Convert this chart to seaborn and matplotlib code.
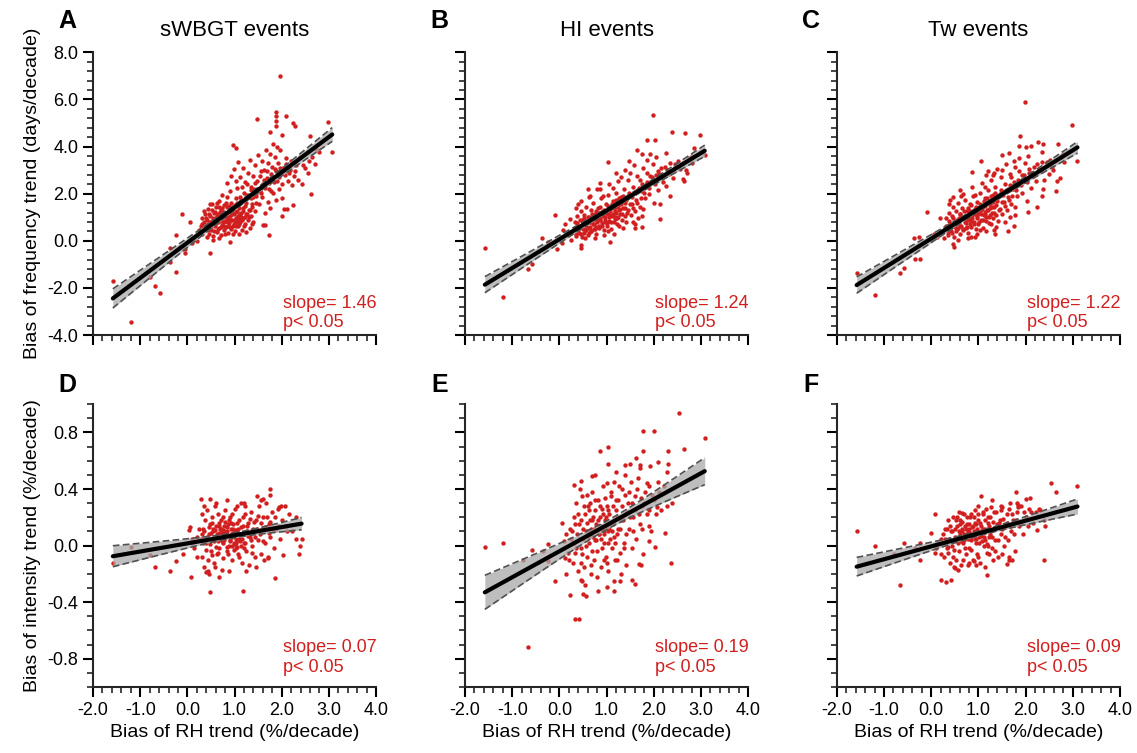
import numpy as np
import pandas as pd
import seaborn as sns
import matplotlib
matplotlib.use("Agg")
import matplotlib.pyplot as plt
from matplotlib.ticker import MultipleLocator, FormatStrFormatter

# ---- data (x = bias of RH trend, y = bias of event trend) ----
pts_a = [
    (-1.58, -1.70), (-1.19, -3.46), (-0.80, -1.52), (-0.68, -1.90), (-0.59, -2.23), (-0.37, -0.31),
    (-0.36, -0.88), (-0.25, 0.23), (-0.25, -1.31), (-0.11, 1.14), (-0.06, -0.50), (0.05, 0.82),
    (-0.15, -0.25), (-0.05, -0.35), (0.10, -0.10), (0.15, 0.15), (0.20, 0.00), (0.25, 0.45),
    (0.30, 0.30), (0.47, -0.50), (0.90, -0.07),
    (0.28, 0.62), (0.31, 0.95), (0.33, 0.40), (0.36, 0.78), (0.38, 1.12), (0.40, 0.55), (0.42, 0.88),
    (0.44, 1.35), (0.45, 0.30), (0.47, 0.70), (0.49, 1.05), (0.50, 0.48), (0.52, 1.58), (0.53, 0.85),
    (0.55, 0.20), (0.56, 1.20), (0.58, 0.62), (0.60, 0.98), (0.61, 1.45), (0.62, 0.38), (0.64, 0.80),
    (0.65, 1.12), (0.67, 0.55), (0.68, 1.70), (0.70, 0.92), (0.71, 0.25), (0.72, 1.30), (0.74, 0.68),
    (0.75, 1.02), (0.77, 0.45), (0.78, 1.52), (0.79, 0.85), (0.81, 1.18), (0.82, 0.60), (0.84, 0.95),
    (0.85, 1.88), (0.86, 0.35), (0.88, 1.25), (0.89, 0.75), (0.90, 1.05), (0.92, 1.62), (0.93, 0.50),
    (0.95, 0.90), (0.96, 1.35), (0.98, 0.70), (0.99, 1.15), (1.01, 0.42), (1.02, 1.80), (1.04, 0.95),
    (1.05, 1.28), (1.07, 0.62), (1.08, 1.05), (1.10, 1.55), (1.12, 0.82), (1.13, 1.18), (1.15, 0.48),
    (1.17, 1.40), (1.18, 0.95), (1.20, 1.70), (1.22, 0.70), (1.24, 1.12), (1.26, 1.95), (1.28, 0.88),
    (1.30, 1.30), (1.33, 0.55), (1.35, 1.05), (1.38, 1.58), (1.40, 0.80), (1.43, 1.25), (1.45, 2.05),
    (0.35, 1.28), (0.42, 0.15), (0.48, 1.55), (0.54, 0.05), (0.57, 0.92), (0.63, 1.62), (0.66, 0.12),
    (0.69, 1.22), (0.73, 1.95), (0.76, 0.80), (0.80, 0.30), (0.83, 1.42), (0.87, 0.65), (0.91, 2.10),
    (0.94, 1.20), (0.97, 0.28), (1.00, 1.50), (1.03, 0.65), (1.06, 2.25), (1.09, 0.90), (1.11, 1.88),
    (1.14, 1.00), (1.16, 2.30), (1.19, 0.62), (1.23, 1.48), (1.27, 2.40), (1.31, 1.00), (1.34, 1.82),
    (1.37, 0.70), (1.42, 2.20),
    (0.85, 2.45), (0.92, 2.75), (0.98, 3.05), (1.02, 2.55), (1.08, 3.35), (1.12, 2.70), (1.18, 3.10),
    (1.22, 2.50), (1.28, 2.90), (1.32, 3.45), (1.35, 2.30), (1.40, 2.75), (1.44, 3.20), (1.48, 2.55),
    (1.50, 3.65), (1.53, 2.10), (1.55, 2.95), (1.58, 3.40), (1.60, 2.40), (1.63, 3.00), (1.66, 3.85),
    (1.68, 2.65), (1.70, 3.30), (1.73, 2.20), (1.75, 3.70), (1.78, 2.85), (1.80, 3.15), (1.82, 4.10),
    (1.84, 2.50), (1.86, 3.55), (1.88, 2.95), (1.90, 4.00), (1.92, 3.30), (1.95, 2.70), (1.97, 3.85),
    (2.00, 2.40), (2.03, 3.10), (2.06, 2.80), (2.10, 3.50), (2.14, 2.55), (2.18, 3.00), (2.22, 2.35),
    (2.26, 2.75), (2.30, 3.20), (2.35, 2.60), (2.42, 2.40), (2.50, 3.10), (2.58, 3.40), (2.65, 3.55),
    (2.72, 3.90), (2.80, 3.75), (2.55, 2.90), (1.46, 1.90), (1.52, 1.55), (1.58, 1.85), (1.64, 1.20),
    (1.70, 1.65), (1.76, 1.40), (1.82, 2.05), (1.88, 1.75), (1.94, 2.20), (2.00, 1.80),
    (0.97, 4.05), (1.04, 3.93), (1.48, 5.17), (1.87, 5.45), (1.87, 5.28), (1.87, 5.07), (1.87, 4.88),
    (1.97, 6.98), (2.08, 5.31), (2.24, 5.00), (2.29, 4.86), (1.75, 4.60), (2.01, 4.50), (2.98, 5.03),
    (3.07, 3.75), (2.63, 1.98), (2.60, 4.43), (2.70, 3.27), (2.01, 1.06), (2.05, 1.34), (2.11, 1.34),
    (2.23, 1.50), (1.73, 0.25), (1.60, 0.66), (1.64, 0.66), (1.25, 0.39), (1.10, 0.27),
]
core_a = [
    (0.32, 0.72), (0.36, 0.52), (0.39, 0.98), (0.41, 0.68), (0.43, 0.45), (0.46, 1.15), (0.48, 0.82),
    (0.51, 0.58), (0.53, 1.32), (0.55, 0.95), (0.57, 0.42), (0.59, 1.22), (0.61, 0.75), (0.63, 1.05),
    (0.64, 0.52), (0.66, 1.45), (0.68, 0.85), (0.70, 1.12), (0.72, 0.58), (0.73, 1.40), (0.75, 0.82),
    (0.77, 1.22), (0.78, 0.62), (0.80, 1.05), (0.82, 1.62), (0.83, 0.78), (0.85, 1.10), (0.87, 0.92),
    (0.88, 1.48), (0.90, 0.58), (0.91, 1.28), (0.93, 0.88), (0.95, 1.12), (0.97, 0.62), (0.98, 1.45),
    (1.00, 0.88), (1.02, 1.22), (1.03, 0.78), (1.05, 1.62), (1.07, 1.00), (1.09, 1.38), (1.10, 0.72),
    (1.12, 1.15), (1.14, 1.72), (1.16, 0.88), (1.18, 1.25), (1.20, 2.05), (1.22, 1.00), (1.25, 1.62),
    (1.27, 1.15), (1.30, 1.92), (1.32, 1.30), (1.35, 2.15), (1.37, 1.45), (1.40, 1.85), (1.43, 2.45),
    (1.46, 1.60), (1.50, 2.20), (1.54, 2.75), (1.57, 2.05), (1.62, 2.60), (1.65, 2.25), (1.69, 2.95),
    (1.72, 2.45), (1.77, 2.10), (1.81, 2.70), (1.85, 3.05), (1.90, 2.55), (1.96, 3.10), (2.02, 2.95),
    (2.08, 3.25), (2.15, 2.90), (2.20, 3.40), (2.28, 2.95), (2.38, 3.55), (2.45, 3.20),
]

pts_b = [
    (-1.58, -0.30), (-1.19, -2.39), (-0.66, -1.19), (-0.58, -1.00), (-0.36, 0.13), (-0.24, -0.04),
    (-0.09, 1.09), (-0.05, -0.34), (0.07, 0.48), (0.05, -0.11), (0.22, 0.93), (0.39, 1.58),
    (0.46, -0.30), (0.46, -0.16), (0.60, 2.18), (0.80, 2.18), (0.87, 2.46), (1.04, 3.35), (1.08, -0.07),
    (1.47, 3.38), (1.64, 3.87), (1.86, 4.27), (2.02, 4.27), (1.75, 3.70), (1.91, 3.70), (1.98, 5.36),
    (2.39, 4.61), (2.67, 4.58), (2.99, 4.48), (3.08, 3.63), (2.86, 3.92), (2.62, 2.64), (2.64, 2.52),
    (2.14, 0.93), (2.35, 1.89), (2.13, 1.58), (1.61, 0.55), (1.61, 0.72), (1.75, 0.58), (2.25, 3.73),
    (2.25, 2.32), (2.41, 2.67), (2.68, 3.00), (2.70, 2.86), (0.15, 0.25), (0.25, 0.05), (0.12, 0.70),
    (0.30, 0.45), (0.33, 0.80), (0.36, 0.20), (0.38, 1.05), (0.40, 0.60), (0.42, 0.35), (0.44, 0.90),
    (0.46, 1.25), (0.48, 0.15), (0.50, 0.70), (0.52, 1.10), (0.54, 0.45), (0.56, 1.45), (0.58, 0.85),
    (0.60, 0.25), (0.62, 1.00), (0.64, 0.60), (0.66, 1.30), (0.68, 0.40), (0.70, 0.95), (0.72, 1.62),
    (0.74, 0.70), (0.76, 1.15), (0.78, 0.30), (0.80, 0.88), (0.82, 1.40), (0.84, 0.55), (0.86, 1.05),
    (0.88, 1.80), (0.90, 0.75), (0.92, 1.25), (0.94, 0.45), (0.96, 1.00), (0.98, 1.55), (1.00, 0.62),
    (1.02, 1.15), (1.04, 1.95), (1.06, 0.85), (1.08, 1.35), (1.10, 0.50), (1.12, 1.05), (1.14, 1.70),
    (1.16, 0.78), (1.18, 1.25), (1.20, 2.05), (1.22, 0.95), (1.24, 1.50), (1.26, 0.65), (1.28, 1.15),
    (1.30, 1.85), (1.32, 0.90), (1.34, 1.40), (1.36, 2.20), (1.38, 1.05), (1.40, 1.60), (1.42, 0.80),
    (1.45, 1.30), (1.48, 1.95), (1.51, 1.10), (1.54, 1.55), (1.57, 2.30), (1.60, 1.25), (1.63, 1.75),
    (1.66, 0.95), (1.70, 1.45), (1.74, 2.10), (1.78, 1.35), (1.82, 1.80),
    (0.35, 1.40), (0.45, 1.70), (0.55, 0.10), (0.65, 1.90), (0.75, 0.10), (0.85, 2.20), (0.95, 0.25),
    (1.05, 2.40), (1.15, 0.30), (1.25, 2.55), (1.35, 0.55), (1.45, 2.60), (1.55, 0.80), (1.65, 2.75),
    (1.75, 1.05), (1.85, 2.90), (1.90, 2.00), (1.95, 2.45), (2.00, 1.60), (2.05, 2.80), (2.10, 2.15),
    (2.15, 3.10), (2.20, 2.50), (0.62, 1.85), (0.73, 0.50), (0.83, 1.20), (0.93, 1.90), (1.03, 0.40),
    (1.13, 2.25), (1.23, 0.70), (0.57, 0.62), (0.67, 0.78), (0.77, 0.58), (0.87, 0.92), (0.97, 0.80),
    (1.07, 1.10), (1.17, 1.02), (1.27, 1.30), (0.53, 0.95), (0.63, 0.35),
    (1.50, 2.90), (1.58, 3.20), (1.70, 2.60), (1.78, 3.10), (1.86, 3.45), (1.92, 2.75), (1.98, 3.25),
    (2.05, 3.55), (2.12, 2.85), (2.28, 3.00), (2.35, 3.30), (2.45, 3.15), (2.52, 3.40), (2.75, 3.50),
    (2.82, 3.30), (1.30, 2.70), (1.40, 3.00), (1.20, 2.90),
]
core_b = [
    (0.32, 0.55), (0.35, 0.30), (0.37, 0.75), (0.40, 0.45), (0.43, 0.62), (0.45, 0.28), (0.47, 0.88),
    (0.50, 0.52), (0.52, 0.35), (0.55, 0.78), (0.57, 0.48), (0.60, 1.02), (0.62, 0.55), (0.64, 0.82),
    (0.67, 0.42), (0.69, 1.15), (0.71, 0.72), (0.73, 0.92), (0.75, 0.50), (0.77, 1.28), (0.79, 0.80),
    (0.81, 1.05), (0.83, 0.65), (0.85, 1.42), (0.87, 0.88), (0.89, 1.15), (0.91, 0.62), (0.93, 1.05),
    (0.95, 1.32), (0.97, 0.88), (0.99, 1.18), (1.01, 0.75), (1.03, 1.48), (1.05, 1.02), (1.07, 1.25),
    (1.09, 0.80), (1.11, 1.58), (1.13, 1.12), (1.15, 1.38), (1.17, 0.92), (1.19, 1.72), (1.21, 1.20),
    (1.23, 1.45), (1.25, 1.02), (1.27, 1.80), (1.29, 1.35), (1.31, 1.55), (1.33, 1.12), (1.35, 1.92),
    (1.38, 1.40), (1.41, 1.75), (1.44, 1.20), (1.47, 2.05), (1.50, 1.55), (1.53, 1.85), (1.56, 1.38),
    (1.60, 2.05), (1.64, 1.62), (1.68, 2.25), (1.72, 1.80), (1.76, 2.40), (1.80, 2.05), (1.85, 2.50),
    (1.90, 2.25), (1.96, 2.70), (2.02, 2.40), (2.08, 2.95), (2.16, 2.65), (2.24, 3.15), (2.32, 2.85),
    (2.45, 3.25), (2.55, 3.05), (2.62, 3.30), (2.80, 3.60),
]

pts_c = [
    (-1.58, -1.36), (-1.19, -2.32), (-0.66, -1.38), (-0.58, -1.16), (-0.36, 0.13), (-0.25, 0.17),
    (-0.35, -0.79), (-0.23, -0.76), (-0.09, 1.24), (0.00, 0.05), (0.06, 0.30), (0.12, 0.15),
    (0.19, 0.98), (0.39, 1.75), (0.48, -0.25), (0.46, -0.15), (0.60, 2.15), (0.87, 2.91), (1.06, 3.38),
    (1.17, 2.78), (1.33, 2.88), (1.49, 3.66), (1.65, 3.73), (1.75, 3.38), (1.86, 4.04), (1.89, 4.44),
    (1.98, 5.88), (2.00, 3.99), (2.12, 4.04), (2.26, 4.20), (2.37, 4.13), (2.68, 4.13), (2.99, 4.93),
    (3.10, 3.39), (2.87, 3.73), (2.64, 2.11), (2.73, 2.67), (2.66, 2.52), (2.34, 3.77), (2.34, 1.89),
    (2.36, 2.20), (2.05, 1.22), (2.25, 1.44), (1.63, 0.41), (1.75, 0.62), (1.33, 0.48), (1.36, 0.30),
    (0.85, 0.18), (0.92, 0.18), (0.22, 0.40), (0.28, 0.10),
    (0.30, 0.55), (0.32, 0.95), (0.35, 0.25), (0.37, 1.20), (0.40, 0.70), (0.42, 0.40), (0.44, 1.05),
    (0.46, 1.45), (0.48, 0.15), (0.50, 0.80), (0.52, 1.25), (0.54, 0.50), (0.56, 1.60), (0.58, 0.95),
    (0.60, 0.30), (0.62, 1.15), (0.64, 0.65), (0.66, 1.40), (0.68, 0.45), (0.70, 1.00), (0.72, 1.75),
    (0.74, 0.75), (0.76, 1.25), (0.78, 0.35), (0.80, 0.95), (0.82, 1.55), (0.84, 0.60), (0.86, 1.10),
    (0.88, 1.90), (0.90, 0.80), (0.92, 1.35), (0.94, 0.50), (0.96, 1.05), (0.98, 1.65), (1.00, 0.70),
    (1.02, 1.20), (1.04, 2.05), (1.06, 0.90), (1.08, 1.45), (1.10, 0.55), (1.12, 1.10), (1.14, 1.80),
    (1.16, 0.85), (1.18, 1.30), (1.20, 2.15), (1.22, 1.00), (1.24, 1.55), (1.26, 0.70), (1.28, 1.20),
    (1.30, 1.95), (1.32, 0.95), (1.34, 1.45), (1.36, 2.30), (1.38, 1.10), (1.40, 1.70), (1.42, 0.85),
    (1.45, 1.35), (1.48, 2.05), (1.51, 1.15), (1.54, 1.65), (1.57, 2.40), (1.60, 1.30), (1.63, 1.85),
    (1.66, 1.00), (1.70, 1.55), (1.74, 2.20), (1.78, 1.45), (1.82, 1.90),
    (0.38, 1.55), (0.47, 1.85), (0.57, 0.05), (0.67, 2.00), (0.77, 0.10), (0.87, 2.30), (0.97, 0.30),
    (1.07, 2.45), (1.17, 0.40), (1.27, 2.60), (1.37, 0.60), (1.47, 2.70), (1.57, 0.80), (1.67, 2.85),
    (1.77, 1.10), (1.87, 2.95), (1.92, 2.05), (1.97, 2.55), (2.02, 1.70), (2.07, 2.90), (2.12, 2.25),
    (2.17, 3.15), (2.22, 2.55), (0.63, 1.90), (0.73, 0.55), (0.83, 1.25), (0.93, 1.95), (1.03, 0.45),
    (1.13, 2.30), (1.23, 0.75), (0.55, 0.75), (0.65, 0.95), (0.75, 1.05), (0.85, 0.85), (0.95, 1.20),
    (1.05, 1.30), (1.15, 1.15), (1.25, 1.40),
    (1.50, 3.00), (1.58, 3.25), (1.70, 2.70), (1.78, 3.15), (1.86, 3.50), (1.92, 2.80), (1.98, 3.30),
    (2.05, 3.60), (2.12, 2.90), (2.28, 3.05), (2.35, 3.35), (2.45, 3.20), (2.52, 3.45), (2.75, 3.55),
    (2.82, 3.35), (1.30, 2.80), (1.40, 3.05), (1.20, 2.95), (2.40, 2.60), (2.50, 2.85), (2.58, 3.00),
]
core_c = [
    (0.32, 0.62), (0.35, 0.38), (0.37, 0.85), (0.40, 0.52), (0.43, 0.72), (0.45, 0.35), (0.47, 0.98),
    (0.50, 0.60), (0.52, 0.42), (0.55, 0.88), (0.57, 0.55), (0.60, 1.12), (0.62, 0.62), (0.64, 0.92),
    (0.67, 0.50), (0.69, 1.25), (0.71, 0.80), (0.73, 1.02), (0.75, 0.58), (0.77, 1.38), (0.79, 0.88),
    (0.81, 1.15), (0.83, 0.72), (0.85, 1.52), (0.87, 0.98), (0.89, 1.25), (0.91, 0.70), (0.93, 1.15),
    (0.95, 1.42), (0.97, 0.98), (0.99, 1.28), (1.01, 0.82), (1.03, 1.58), (1.05, 1.12), (1.07, 1.35),
    (1.09, 0.88), (1.11, 1.68), (1.13, 1.22), (1.15, 1.48), (1.17, 1.00), (1.19, 1.82), (1.21, 1.30),
    (1.23, 1.55), (1.25, 1.10), (1.27, 1.90), (1.29, 1.45), (1.31, 1.65), (1.33, 1.20), (1.35, 2.02),
    (1.38, 1.50), (1.41, 1.85), (1.44, 1.30), (1.47, 2.15), (1.50, 1.65), (1.53, 1.95), (1.56, 1.48),
    (1.60, 2.15), (1.64, 1.72), (1.68, 2.35), (1.72, 1.90), (1.76, 2.50), (1.80, 2.15), (1.85, 2.60),
    (1.90, 2.35), (1.96, 2.80), (2.02, 2.50), (2.08, 3.05), (2.16, 2.75), (2.24, 3.25), (2.32, 2.95),
    (2.45, 3.35), (2.55, 3.15), (2.62, 3.40), (2.80, 3.70),
]

pts_d = [
    (-1.58, -0.12), (-1.19, -0.01), (-0.80, -0.07), (-0.68, -0.15), (-0.36, -0.18), (-0.25, -0.11),
    (-0.10, -0.06), (0.07, -0.22), (0.04, 0.11), (0.06, 0.13), (0.29, 0.33), (0.49, 0.33), (0.48, -0.33),
    (0.58, 0.28), (0.40, -0.19), (0.43, -0.18), (0.67, -0.22), (1.17, -0.32), (1.19, 0.30), (1.22, 0.28),
    (1.47, 0.35), (1.61, 0.33), (1.75, 0.36), (1.76, 0.40), (1.86, -0.23), (2.02, -0.07), (1.98, 0.28),
    (2.06, 0.28), (2.30, 0.20), (2.38, 0.00), (2.42, 0.05), (2.37, -0.06), (2.12, 0.10), (0.15, -0.02),
    (0.20, 0.06), (0.10, 0.02),
    (0.28, 0.05), (0.30, 0.22), (0.32, -0.08), (0.34, 0.12), (0.36, -0.15), (0.38, 0.18), (0.40, 0.02),
    (0.42, 0.25), (0.44, -0.10), (0.46, 0.08), (0.48, 0.15), (0.50, -0.04), (0.52, 0.20), (0.54, 0.10),
    (0.56, -0.12), (0.58, 0.05), (0.60, 0.14), (0.62, -0.06), (0.64, 0.22), (0.66, 0.09), (0.68, -0.02),
    (0.70, 0.12), (0.72, 0.18), (0.74, 0.03), (0.76, -0.09), (0.78, 0.10), (0.80, 0.25), (0.82, 0.06),
    (0.84, -0.04), (0.86, 0.15), (0.88, 0.00), (0.90, 0.20), (0.92, 0.08), (0.94, -0.10), (0.96, 0.12),
    (0.98, 0.02), (1.00, 0.26), (1.02, -0.02), (1.04, 0.10), (1.06, 0.04), (1.08, -0.06), (1.10, 0.18),
    (1.12, 0.08), (1.14, 0.30), (1.16, -0.12), (1.18, 0.14), (1.20, 0.02), (1.22, 0.22), (1.24, -0.04),
    (1.26, 0.10), (1.28, 0.16), (1.30, -0.14), (1.32, 0.06), (1.35, 0.24), (1.38, 0.00), (1.40, 0.12),
    (1.43, -0.08), (1.46, 0.18), (1.49, 0.04), (1.52, 0.28), (1.55, -0.06), (1.58, 0.12), (1.61, 0.20),
    (1.64, 0.02), (1.67, 0.30), (1.70, -0.08), (1.73, 0.15), (1.76, 0.06), (1.80, 0.24), (1.84, -0.02),
    (1.88, 0.12), (1.92, 0.26), (1.96, 0.05), (2.00, 0.18), (2.08, 0.14), (2.15, 0.22), (2.22, 0.10),
    (2.30, 0.05),
    (0.55, 0.12), (0.62, 0.08), (0.68, 0.14), (0.71, 0.06), (0.75, 0.11), (0.83, 0.13), (0.87, 0.07),
    (0.91, 0.03), (0.97, 0.09), (1.01, 0.01), (1.05, -0.01), (1.09, 0.05), (1.13, 0.00), (0.99, -0.03),
    (0.93, 0.16), (0.79, 0.17), (0.65, 0.03), (0.58, -0.15), (0.45, -0.20), (0.73, -0.17), (0.89, -0.18),
    (1.25, -0.18), (1.45, -0.15), (1.62, -0.10), (1.70, -0.09), (0.35, 0.28), (0.60, 0.30), (0.85, 0.32),
    (1.05, 0.28), (1.55, 0.32), (1.95, 0.27), (0.77, 0.04), (0.95, 0.06), (1.03, 0.05), (1.07, 0.12),
]
core_d = [
    (0.30, 0.08), (0.33, 0.02), (0.36, 0.10), (0.39, -0.03), (0.42, 0.06), (0.45, 0.13), (0.48, 0.01),
    (0.51, 0.09), (0.53, 0.16), (0.56, 0.03), (0.59, 0.11), (0.61, -0.01), (0.63, 0.07), (0.66, 0.16),
    (0.69, 0.05), (0.71, 0.12), (0.73, 0.09), (0.76, 0.02), (0.78, 0.14), (0.81, 0.08), (0.83, -0.01),
    (0.85, 0.10), (0.88, 0.18), (0.90, 0.04), (0.92, 0.12), (0.95, 0.00), (0.97, 0.15), (0.99, 0.07),
    (1.02, 0.11), (1.04, 0.02), (1.06, 0.16), (1.08, 0.09), (1.11, 0.03), (1.13, 0.13), (1.15, 0.05),
    (1.18, 0.20), (1.20, 0.09), (1.23, 0.02), (1.26, 0.14), (1.29, 0.07), (1.32, 0.19), (1.35, 0.04),
    (1.38, 0.11), (1.41, 0.17), (1.44, 0.06), (1.47, 0.12), (1.50, 0.21), (1.53, 0.08), (1.57, 0.16),
    (1.60, 0.03), (1.64, 0.13), (1.68, 0.20), (1.72, 0.09), (1.76, 0.17), (1.81, 0.11), (1.86, 0.20),
    (1.91, 0.14), (0.20, -0.08), (0.25, 0.12), (0.10, 0.05), (0.65, -0.05), (0.86, -0.06), (1.10, -0.08),
    (1.36, -0.05), (0.52, -0.07), (0.75, 0.20), (0.95, 0.22), (1.20, -0.02),
]

pts_e = [
    (-1.58, -0.01), (-1.19, 0.02), (-0.78, -0.10), (-0.67, -0.72), (-0.58, -0.03), (-0.35, -0.04),
    (-0.24, 0.01), (-0.24, -0.11), (-0.10, -0.25), (0.05, 0.16), (0.09, 0.03), (0.11, -0.09),
    (0.22, -0.35), (0.23, 0.12), (0.31, 0.43), (0.32, -0.52), (0.41, -0.52), (0.43, 0.40), (0.46, -0.24),
    (0.47, -0.25), (0.50, -0.34), (0.57, -0.36), (0.69, 0.49), (0.82, -0.32), (0.87, 0.67), (1.04, 0.70),
    (1.04, 0.58), (1.15, -0.32), (1.00, -0.29), (1.29, -0.25), (1.38, 0.57), (1.49, 0.58), (1.54, -0.24),
    (1.61, -0.27), (1.62, 0.62), (1.69, -0.13), (1.73, -0.14), (1.77, 0.81), (2.00, 0.81), (1.77, 0.67),
    (1.70, 0.57), (1.70, 0.55), (1.93, 0.56), (2.08, 0.59), (1.89, 0.03), (1.89, 0.14), (2.03, -0.01),
    (2.23, 0.09), (2.30, 0.67), (2.30, 0.58), (2.27, 0.52), (2.37, -0.12), (2.39, 0.30), (2.28, 0.28),
    (2.53, 0.94), (2.64, 0.68), (3.08, 0.76), (2.06, 0.27), (0.15, 0.08), (0.18, -0.05),
    (0.25, 0.05), (0.28, -0.12), (0.30, 0.20), (0.33, -0.05), (0.35, 0.30), (0.38, 0.08), (0.40, -0.18),
    (0.42, 0.15), (0.45, -0.02), (0.47, 0.35), (0.50, 0.05), (0.52, -0.15), (0.54, 0.22), (0.56, 0.10),
    (0.58, -0.08), (0.60, 0.28), (0.62, 0.02), (0.64, 0.18), (0.66, -0.20), (0.68, 0.12), (0.70, 0.38),
    (0.72, 0.06), (0.74, -0.10), (0.76, 0.25), (0.78, 0.15), (0.80, -0.04), (0.82, 0.32), (0.84, 0.08),
    (0.86, 0.20), (0.88, -0.15), (0.90, 0.12), (0.92, 0.42), (0.94, 0.02), (0.96, 0.18), (0.98, -0.08),
    (1.00, 0.28), (1.02, 0.10), (1.04, -0.18), (1.06, 0.22), (1.08, 0.05), (1.10, 0.35), (1.12, -0.02),
    (1.14, 0.15), (1.16, 0.45), (1.18, -0.10), (1.20, 0.25), (1.22, 0.08), (1.25, 0.32), (1.28, -0.05),
    (1.30, 0.18), (1.33, 0.40), (1.36, 0.02), (1.39, 0.22), (1.42, -0.14), (1.45, 0.30), (1.48, 0.12),
    (1.51, 0.45), (1.54, -0.02), (1.57, 0.20), (1.60, 0.35), (1.63, 0.05), (1.66, 0.48), (1.70, 0.15),
    (1.74, 0.28), (1.78, -0.06), (1.82, 0.38), (1.86, 0.22), (1.90, 0.42), (1.95, 0.10), (2.00, 0.32),
    (2.08, 0.45), (2.15, 0.25), (2.22, 0.42),
    (0.60, 0.10), (0.70, 0.18), (0.75, 0.04), (0.85, 0.14), (0.95, 0.08), (1.05, 0.12), (1.15, 0.06),
    (0.65, 0.30), (0.90, 0.26), (1.25, 0.12), (0.55, -0.28), (0.80, -0.22), (1.00, -0.12), (1.15, -0.25),
    (1.30, -0.20), (0.45, 0.46), (0.75, 0.50), (1.20, 0.52), (1.40, 0.50), (0.88, 0.05), (0.98, 0.20),
]
core_e = [
    (0.30, 0.02), (0.33, 0.15), (0.36, -0.02), (0.39, 0.22), (0.42, 0.05), (0.45, 0.18), (0.48, -0.06),
    (0.51, 0.12), (0.53, 0.28), (0.56, 0.00), (0.59, 0.16), (0.61, 0.06), (0.63, 0.25), (0.66, 0.08),
    (0.69, -0.04), (0.71, 0.20), (0.73, 0.12), (0.76, 0.32), (0.78, 0.04), (0.81, 0.18), (0.83, 0.08),
    (0.85, 0.28), (0.88, 0.14), (0.90, -0.02), (0.92, 0.22), (0.95, 0.10), (0.97, 0.34), (0.99, 0.14),
    (1.02, 0.02), (1.04, 0.25), (1.06, 0.15), (1.09, 0.38), (1.11, 0.10), (1.13, 0.28), (1.15, 0.18),
    (1.18, 0.02), (1.20, 0.32), (1.23, 0.20), (1.26, 0.42), (1.29, 0.12), (1.32, 0.28), (1.35, 0.18),
    (1.38, 0.36), (1.41, 0.08), (1.44, 0.24), (1.47, 0.38), (1.50, 0.20), (1.53, 0.30), (1.56, 0.10),
    (1.60, 0.25), (1.64, 0.40), (1.68, 0.22), (1.72, 0.34), (1.76, 0.12), (1.80, 0.30), (1.85, 0.44),
    (1.90, 0.25), (1.96, 0.36), (2.05, 0.22), (2.12, 0.38), (0.20, -0.10), (0.26, 0.10), (0.15, -0.20),
    (0.68, -0.14), (0.94, -0.10), (1.22, -0.10), (0.58, 0.36), (1.00, 0.44), (0.46, -0.12), (1.36, -0.02),
]

pts_f = [
    (-1.58, 0.10), (-1.19, 0.00), (-0.78, -0.06), (-0.67, -0.28), (-0.58, 0.02), (-0.35, -0.02),
    (-0.23, 0.02), (-0.23, -0.10), (0.00, 0.09), (0.09, 0.22), (0.09, -0.05), (0.21, -0.24),
    (0.32, -0.26), (0.41, -0.24), (0.48, -0.15), (0.56, -0.17), (0.65, 0.23), (0.80, -0.12), (0.90, -0.11),
    (1.06, 0.35), (1.15, -0.15), (1.19, -0.21), (1.29, 0.32), (1.48, 0.28), (1.61, -0.13), (1.65, -0.10),
    (1.72, -0.10), (1.79, 0.38), (1.82, 0.30), (1.85, 0.29), (2.00, 0.33), (2.10, 0.34), (2.28, 0.26),
    (2.31, 0.25), (2.25, 0.11), (2.39, 0.18), (2.41, 0.14), (2.39, -0.10), (2.53, 0.44), (2.65, 0.38),
    (3.10, 0.42),
    (0.25, 0.02), (0.28, -0.08), (0.30, 0.12), (0.33, -0.02), (0.35, 0.18), (0.38, 0.05), (0.40, -0.12),
    (0.42, 0.10), (0.45, 0.00), (0.47, 0.20), (0.50, 0.06), (0.52, -0.10), (0.54, 0.14), (0.56, 0.04),
    (0.58, -0.04), (0.60, 0.18), (0.62, 0.08), (0.64, -0.14), (0.66, 0.12), (0.68, 0.02), (0.70, 0.22),
    (0.72, 0.06), (0.74, -0.06), (0.76, 0.15), (0.78, 0.10), (0.80, -0.02), (0.82, 0.20), (0.84, 0.04),
    (0.86, 0.13), (0.88, -0.10), (0.90, 0.08), (0.92, 0.25), (0.94, 0.02), (0.96, 0.12), (0.98, -0.06),
    (1.00, 0.18), (1.02, 0.06), (1.04, -0.12), (1.06, 0.14), (1.08, 0.03), (1.10, 0.22), (1.12, 0.00),
    (1.14, 0.10), (1.16, 0.26), (1.18, -0.05), (1.20, 0.16), (1.22, 0.06), (1.25, 0.20), (1.28, -0.02),
    (1.30, 0.12), (1.33, 0.24), (1.36, 0.04), (1.39, 0.15), (1.42, -0.08), (1.45, 0.18), (1.48, 0.08),
    (1.51, 0.27), (1.54, 0.00), (1.57, 0.13), (1.60, 0.22), (1.63, 0.04), (1.66, 0.30), (1.70, 0.10),
    (1.74, 0.18), (1.78, -0.04), (1.82, 0.24), (1.86, 0.14), (1.90, 0.28), (1.95, 0.08), (2.00, 0.20),
    (2.08, 0.26), (2.15, 0.16), (2.22, 0.24),
    (0.60, 0.06), (0.65, 0.10), (0.70, 0.04), (0.75, 0.08), (0.80, 0.12), (0.85, 0.06), (0.90, 0.10),
    (0.95, 0.05), (1.00, 0.09), (1.05, 0.07), (1.10, 0.12), (1.15, 0.04), (0.55, 0.20), (0.85, 0.22),
    (1.25, 0.08), (0.50, -0.16), (0.78, -0.14), (1.00, -0.08), (1.30, -0.10), (1.50, -0.06), (1.65, -0.08),
    (0.35, -0.05), (0.20, 0.05), (0.15, 0.02), (0.10, -0.02), (0.72, 0.14), (0.93, 0.16), (1.20, 0.00),
]
core_f = [
    (0.30, 0.05), (0.33, 0.12), (0.36, -0.01), (0.39, 0.14), (0.42, 0.04), (0.45, 0.10), (0.48, -0.03),
    (0.51, 0.12), (0.53, 0.18), (0.56, 0.02), (0.59, 0.10), (0.61, 0.15), (0.63, 0.03), (0.66, 0.17),
    (0.69, 0.08), (0.71, -0.02), (0.73, 0.12), (0.76, 0.20), (0.78, 0.05), (0.81, 0.15), (0.83, 0.09),
    (0.85, -0.03), (0.88, 0.14), (0.90, 0.20), (0.92, 0.05), (0.95, 0.15), (0.97, 0.10), (0.99, 0.22),
    (1.02, 0.02), (1.04, 0.16), (1.06, 0.10), (1.09, 0.24), (1.11, 0.06), (1.13, 0.18), (1.15, 0.12),
    (1.18, 0.01), (1.20, 0.20), (1.23, 0.14), (1.26, 0.27), (1.29, 0.06), (1.32, 0.17), (1.35, 0.12),
    (1.38, 0.24), (1.41, 0.04), (1.44, 0.16), (1.47, 0.25), (1.50, 0.12), (1.53, 0.19), (1.56, 0.06),
    (1.60, 0.16), (1.64, 0.26), (1.68, 0.14), (1.72, 0.22), (1.76, 0.08), (1.80, 0.18), (1.85, 0.27),
    (1.90, 0.16), (1.96, 0.24), (2.05, 0.14), (2.12, 0.24), (0.20, -0.06), (0.26, 0.08), (0.68, -0.10),
    (0.94, -0.14), (1.22, -0.06), (0.58, 0.24), (1.00, 0.28), (0.46, -0.08), (1.36, -0.04),
]

panel_letters = ["A", "B", "C", "D", "E", "F"]
col_titles = ["sWBGT events", "HI events", "Tw events"]
slope_labels = ["1.46", "1.24", "1.22", "0.07", "0.19", "0.09"]
p_label = "p< 0.05"
ylabel_top = "Bias of frequency trend (days/decade)"
ylabel_bottom = "Bias of intensity trend (%/decade)"
xlabel = "Bias of RH trend (%/decade)"

panels = [pts_a + core_a, pts_b + core_b, pts_c + core_c,
          pts_d + core_d, pts_e + core_e, pts_f + core_f]

sns.set_style("ticks")
plt.rcParams["font.family"] = ["Liberation Sans", "DejaVu Sans"]
plt.rcParams["axes.linewidth"] = 1.5
plt.rcParams["text.color"] = "black"
plt.rcParams["axes.labelcolor"] = "black"

red = "#d11f1f"
fig = plt.figure(figsize=(11.37, 7.53), dpi=100)

lefts = [0.0818, 0.409, 0.736]
bottoms = [0.555, 0.0877]
w, h = 0.249, 0.3755


def conf_band(x, y, xs):
    n = len(x)
    b1, b0 = np.polyfit(x, y, 1)
    resid = y - (b0 + b1 * x)
    s = np.sqrt(np.sum(resid ** 2) / (n - 2))
    xm = x.mean()
    sxx = np.sum((x - xm) ** 2)
    se = s * np.sqrt(1.0 / n + (xs - xm) ** 2 / sxx)
    yhat = b0 + b1 * xs
    return yhat - 1.97 * se, yhat + 1.97 * se


for i, pts in enumerate(panels):
    row, col = divmod(i, 3)
    ax = fig.add_axes([lefts[col], bottoms[row], w, h])
    df = pd.DataFrame(pts, columns=["rh", "val"])

    sns.scatterplot(data=df, x="rh", y="val", ax=ax, color=red, s=10,
                    linewidth=0, zorder=2, legend=False)

    xs = np.linspace(df.rh.min(), df.rh.max(), 100)
    lo, hi = conf_band(df.rh.values, df.val.values, xs)
    ax.fill_between(xs, lo, hi, color="#a8a8a8", alpha=0.75, lw=0, zorder=3)
    ax.plot(xs, lo, color="#505050", lw=1.2, ls=(0, (4, 2)), zorder=4)
    ax.plot(xs, hi, color="#505050", lw=1.2, ls=(0, (4, 2)), zorder=4)
    sns.regplot(data=df, x="rh", y="val", ax=ax, scatter=False, ci=None,
                line_kws=dict(color="black", lw=3, zorder=5))

    ax.set_xlim(-2, 4)
    ax.xaxis.set_major_locator(MultipleLocator(1.0))
    ax.xaxis.set_minor_locator(MultipleLocator(0.2))
    ax.xaxis.set_major_formatter(FormatStrFormatter("%.1f"))
    if row == 0:
        ax.set_ylim(-4, 8)
        ax.yaxis.set_major_locator(MultipleLocator(2.0))
        ax.yaxis.set_minor_locator(MultipleLocator(0.4))
    else:
        ax.set_ylim(-1, 1)
        ax.yaxis.set_major_locator(MultipleLocator(0.4))
        ax.yaxis.set_minor_locator(MultipleLocator(0.1))
    ax.yaxis.set_major_formatter(FormatStrFormatter("%.1f"))

    ax.tick_params(which="major", direction="out", length=7, width=1.5, labelsize=13, colors="black")
    ax.tick_params(which="minor", direction="out", length=4, width=1.2)
    sns.despine(ax=ax)

    if row == 0:
        ax.tick_params(axis="x", labelbottom=False)
        ax.set_xlabel("")
    else:
        ax.set_xlabel(xlabel, fontsize=14, labelpad=4)
    if col == 0:
        ax.set_ylabel(ylabel_top if row == 0 else ylabel_bottom, fontsize=14, labelpad=5)
    else:
        ax.tick_params(axis="y", labelleft=False)
        ax.set_ylabel("")

    if row == 0:
        ax.set_title(col_titles[col], fontsize=16, pad=12)
        ax.text(-0.09, 1.11, panel_letters[i], transform=ax.transAxes, fontsize=18,
                fontweight="bold", ha="center", va="center")
        ty1, ty2 = 0.113, 0.043
    else:
        ax.text(-0.09, 1.067, panel_letters[i], transform=ax.transAxes, fontsize=18,
                fontweight="bold", ha="center", va="center")
        ty1, ty2 = 0.138, 0.068
    ax.text(0.672, ty1, "slope= " + slope_labels[i], transform=ax.transAxes,
            color=red, fontsize=13, va="center", ha="left")
    ax.text(0.672, ty2, p_label, transform=ax.transAxes,
            color=red, fontsize=13, va="center", ha="left")

fig.savefig("out.png", dpi=100)
